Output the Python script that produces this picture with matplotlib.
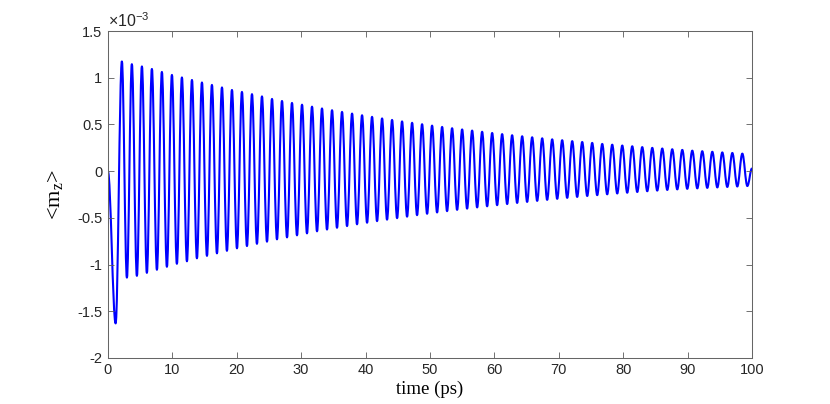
import matplotlib
matplotlib.use("Agg")
import matplotlib.pyplot as plt
from matplotlib.path import Path
from matplotlib.patches import PathPatch
from matplotlib.ticker import FuncFormatter

plt.rcParams['mathtext.fontset'] = 'custom'
plt.rcParams['mathtext.rm'] = 'Liberation Serif'
plt.rcParams['mathtext.sf'] = 'Liberation Sans'

# start of the curve: t (ps), <m_z> (x1e-3)
start_t = [0.0, 1.2]
start_v = [0.0, -1.63]

# maxima of the oscillation
peak_t = [2.17, 3.72, 5.28, 6.83, 8.38, 9.94, 11.49, 13.05, 14.60, 16.15,
          17.71, 19.26, 20.81, 22.37, 23.92, 25.48, 27.03, 28.58, 30.14, 31.69,
          33.24, 34.80, 36.35, 37.91, 39.46, 41.01, 42.57, 44.12, 45.67, 47.23,
          48.78, 50.33, 51.89, 53.44, 55.00, 56.55, 58.10, 59.66, 61.21, 62.76,
          64.32, 65.87, 67.43, 68.98, 70.53, 72.09, 73.64, 75.19, 76.75, 78.30,
          79.86, 81.41, 82.96, 84.52, 86.07, 87.62, 89.18, 90.73, 92.28, 93.84,
          95.39, 96.95, 98.50]
peak_v = [1.175, 1.146, 1.122, 1.095, 1.063, 1.031, 1.004, 0.977, 0.950, 0.924,
          0.897, 0.870, 0.849, 0.825, 0.801, 0.774, 0.752, 0.731, 0.712, 0.691,
          0.672, 0.653, 0.635, 0.617, 0.599, 0.582, 0.565, 0.549, 0.533, 0.518,
          0.503, 0.488, 0.474, 0.460, 0.447, 0.435, 0.422, 0.409, 0.397, 0.385,
          0.374, 0.363, 0.352, 0.341, 0.332, 0.322, 0.313, 0.303, 0.292, 0.284,
          0.275, 0.267, 0.258, 0.250, 0.243, 0.235, 0.228, 0.220, 0.214, 0.208,
          0.201, 0.195, 0.188]

# minima after each maximum
trough_t = [2.95, 4.50, 6.05, 7.61, 9.16, 10.71, 12.27, 13.82, 15.38, 16.93,
            18.48, 20.04, 21.59, 23.14, 24.70, 26.25, 27.81, 29.36, 30.91, 32.47,
            34.02, 35.57, 37.13, 38.68, 40.24, 41.79, 43.34, 44.90, 46.45, 48.00,
            49.56, 51.11, 52.66, 54.22, 55.77, 57.33, 58.88, 60.43, 61.99, 63.54,
            65.09, 66.65, 68.20, 69.76, 71.31, 72.86, 74.42, 75.97, 77.52, 79.08,
            80.63, 82.19, 83.74, 85.29, 86.85, 88.40, 89.95, 91.51, 93.06, 94.62,
            96.17, 97.72, 99.28]
trough_v = [-1.140, -1.121, -1.089, -1.056, -1.024, -0.992, -0.965, -0.933, -0.907, -0.880,
            -0.853, -0.826, -0.802, -0.778, -0.755, -0.730, -0.709, -0.687, -0.666, -0.644,
            -0.625, -0.606, -0.588, -0.569, -0.552, -0.535, -0.519, -0.503, -0.487, -0.471,
            -0.456, -0.442, -0.428, -0.414, -0.401, -0.388, -0.376, -0.364, -0.352, -0.340,
            -0.329, -0.318, -0.307, -0.296, -0.286, -0.276, -0.266, -0.257, -0.248, -0.239,
            -0.231, -0.223, -0.215, -0.208, -0.201, -0.195, -0.189, -0.184, -0.179, -0.174,
            -0.169, -0.164, -0.159]

end_t = 100.0
end_v = 0.03

xticks = [0, 10, 20, 30, 40, 50, 60, 70, 80, 90, 100]
yticks = [-2, -1.5, -1, -0.5, 0, 0.5, 1, 1.5]

# turning points in time order
t = list(start_t)
v = list(start_v)
for i in range(len(peak_t)):
    t += [peak_t[i], trough_t[i]]
    v += [peak_v[i], trough_v[i]]
t.append(end_t)
v.append(end_v)

# join the turning points with smooth cubic segments (flat at each turning point)
k = 0.364
verts = [(t[0], v[0])]
codes = [Path.MOVETO]
for i in range(1, len(t)):
    dt = t[i] - t[i - 1]
    verts += [(t[i - 1] + k * dt, v[i - 1]), (t[i] - k * dt, v[i]), (t[i], v[i])]
    codes += [Path.CURVE4] * 3

fig = plt.figure(figsize=(8.3, 4.04), dpi=100)
ax = fig.add_axes([0.130, 0.114, 0.776, 0.809])
ax.add_patch(PathPatch(Path(verts, codes), fill=False, edgecolor=(0, 0, 1),
                       linewidth=1.5, joinstyle='round', clip_on=True))

ax.set_xlim(0, 100)
ax.set_ylim(-2, 1.5)
ax.set_xticks(xticks)
ax.set_yticks(yticks)
ax.yaxis.set_major_formatter(FuncFormatter(lambda x, p: '%g' % x))
ax.xaxis.set_major_formatter(FuncFormatter(lambda x, p: '%g' % x))
ax.tick_params(direction='in', length=4.5, width=0.6, color='0.35',
               top=True, right=True, labelsize=10.5, labelcolor='#262626', pad=4)
for lbl in ax.get_xticklabels() + ax.get_yticklabels():
    lbl.set_family('Liberation Sans')
for s in ax.spines.values():
    s.set_color('0.4')
    s.set_linewidth(0.75)

ax.text(0.0, 1.003, r'$\mathsf{\times10^{-3}}$', transform=ax.transAxes,
        ha='left', va='bottom', fontsize=11.5, color='#262626')

ax.set_xlabel('time (ps)', family='Liberation Serif', fontsize=13.5, labelpad=2)
ax.set_ylabel(r'<m$_{\mathrm{z}}$>', family='Liberation Serif', fontsize=16, labelpad=8)

fig.savefig('out.png', dpi=100)
